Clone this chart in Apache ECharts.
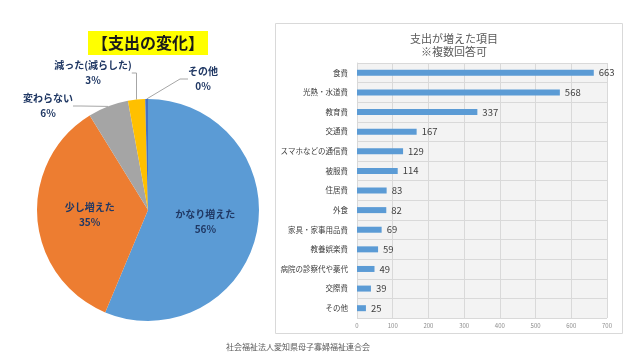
<!DOCTYPE html>
<html><head><meta charset="utf-8">
<script src="https://cdn.jsdelivr.net/npm/echarts@6/dist/echarts.min.js"></script>
<style>html,body{margin:0;padding:0;background:#fff}#c{width:640px;height:360px}</style>
</head><body><div id="c"></div>
<script>
const pieNames = ['かなり増えた', '少し増えた', '変わらない', '減った(減らした)', 'その他'];
const pieValues = [56.3, 34.9, 5.9, 2.5, 0.4];
const pieLabels = ['56%', '35%', '6%', '3%', '0%'];
const pieColors = ['#5B9BD5', '#ED7D31', '#A5A5A5', '#FFC000', '#4472C4'];

const barCategories = ['食費', '光熱・水道費', '教育費', '交通費', 'スマホなどの通信費', '被服費', '住居費', '外食', '家具・家事用品費', '教養娯楽費', '病院の診察代や薬代', '交際費', 'その他'];
const barValues = [663, 568, 337, 167, 129, 114, 83, 82, 69, 59, 49, 39, 25];

const FONT = '"Noto Sans CJK JP", "Noto Sans", sans-serif';
const chart = echarts.init(document.getElementById('c'), null, {renderer: 'canvas'});

// outside label anchor positions (label centre) for small slices
const outsidePos = {2: [48, 106], 3: [93, 73], 4: [203, 79]};

const option = {
  animation: false,
  textStyle: {fontFamily: FONT},
  title: [
    {text: '【支出の変化】', left: 88, top: 31, backgroundColor: '#FFFF00',
     padding: [3, 4, 3, 4],
     textStyle: {fontSize: 16, fontWeight: 'bold', color: '#1a1a1a', fontFamily: FONT, lineHeight: 18}},
    {text: '支出が増えた項目\n※複数回答可', left: 449, top: 27, textAlign: 'center',
     textStyle: {fontSize: 11, fontWeight: 'normal', color: '#595959', fontFamily: FONT, lineHeight: 13}}
  ],
  graphic: [
    {type: 'rect', shape: {x: 275.5, y: 23.5, width: 347, height: 310},
     style: {fill: 'none', stroke: '#d9d9d9', lineWidth: 1}, z: -10},
    {type: 'text', left: 226, top: 343,
     style: {text: '社会福祉法人愛知県母子寡婦福祉連合会', fontSize: 8, fill: '#595959', fontFamily: FONT}}
  ],
  grid: {left: 357, right: 33, top: 63, bottom: 42, show: true, backgroundColor: '#f3f3f3', borderWidth: 0},
  xAxis: {
    type: 'value', min: 0, max: 700, interval: 100,
    axisLine: {show: false}, axisTick: {show: false},
    axisLabel: {fontSize: 6, color: '#8c8c8c', margin: 5, fontFamily: FONT},
    splitLine: {lineStyle: {color: '#d9d9d9', width: 1}}
  },
  yAxis: {
    type: 'category', data: barCategories, inverse: true,
    axisLine: {show: true, lineStyle: {color: '#d9d9d9'}}, axisTick: {show: false},
    axisLabel: {fontSize: 7.5, color: '#404040', margin: 9, fontFamily: FONT, interval: 0},
    splitLine: {show: true, interval: 0, lineStyle: {color: '#d9d9d9', width: 1}}
  },
  series: [
    {
      type: 'bar', data: barValues, barWidth: 6,
      itemStyle: {color: '#5B9BD5'},
      label: {show: true, position: 'right', distance: 5, fontSize: 9.5, color: '#404040', fontFamily: FONT}
    },
    {
      type: 'pie', center: [148, 210], radius: 111, startAngle: 90, clockwise: true,
      avoidLabelOverlap: false,
      data: pieNames.map((n, i) => ({
        name: n, value: pieValues[i],
        itemStyle: {color: pieColors[i]},
        label: i < 2 ? {position: 'inside'} : {position: 'outside'},
        labelLine: {show: i >= 2, length: 12, length2: 8, lineStyle: {color: '#a6a6a6', width: 1}}
      })),
      label: {
        formatter: p => p.name + '\n' + pieLabels[p.dataIndex],
        fontSize: 10, fontWeight: 'bold', color: '#203864', lineHeight: 15, align: 'center',
        fontFamily: FONT
      },
      labelLayout: p => {
        const pos = outsidePos[p.dataIndex];
        if (!pos) return {};
        return {x: pos[0], y: pos[1], align: 'center', verticalAlign: 'middle'};
      }
    }
  ]
};
chart.setOption(option);
</script></body></html>
